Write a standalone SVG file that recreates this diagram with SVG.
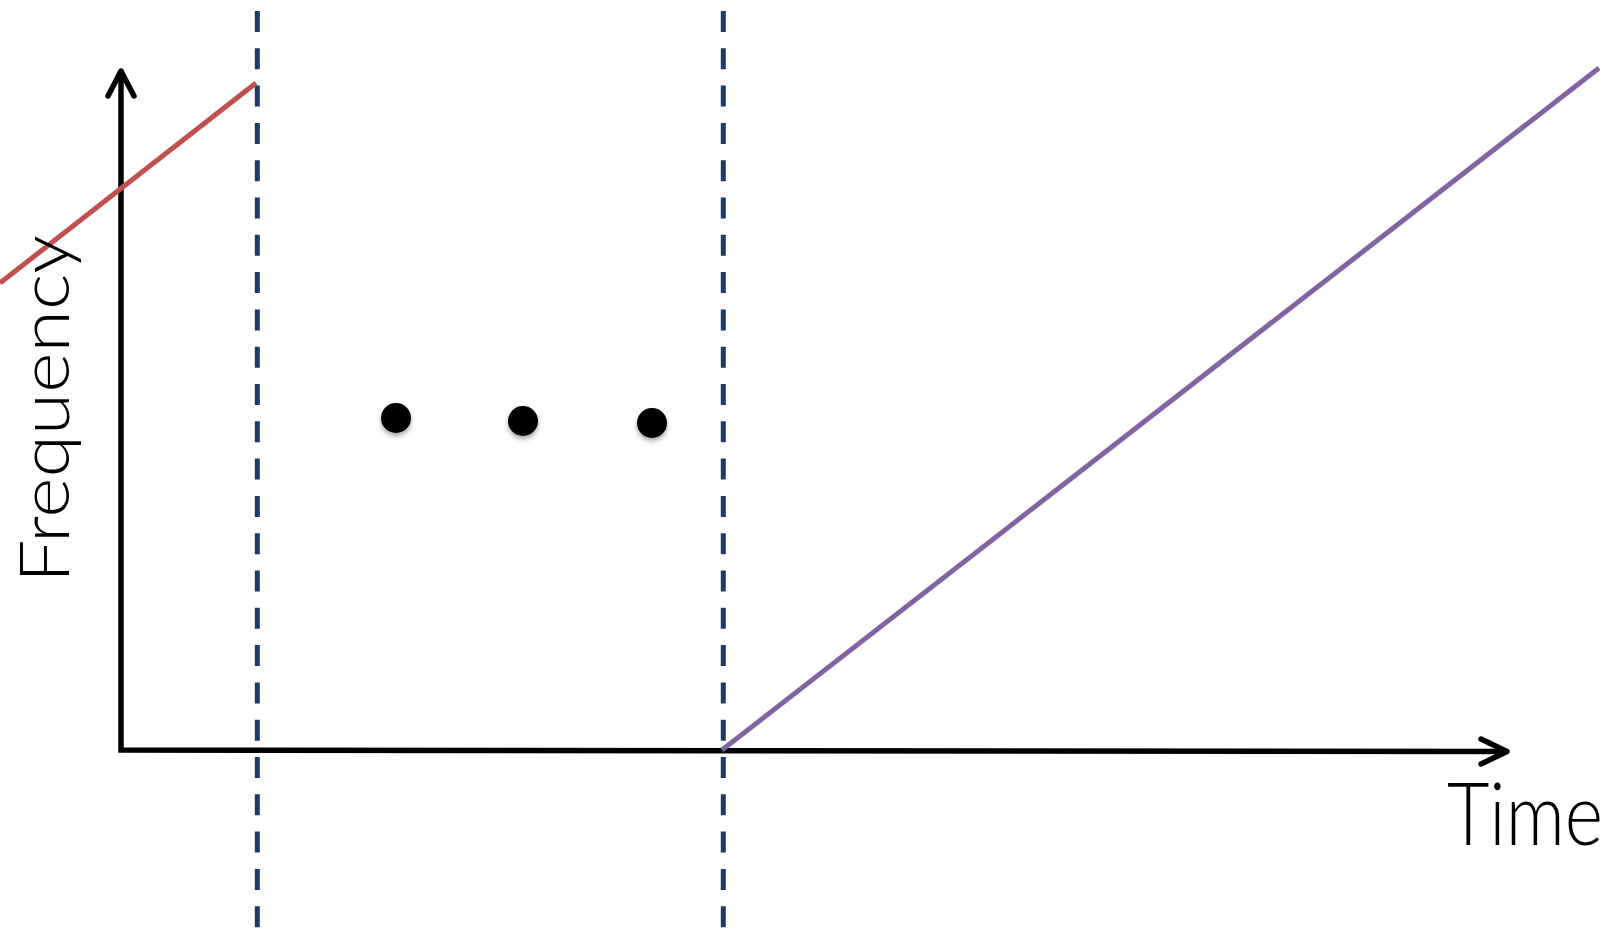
<svg xmlns="http://www.w3.org/2000/svg" width="1616" height="929" viewBox="0 0 1616 929">
  <style>
    .axis { stroke: #000; stroke-width: 5.5; fill: none; stroke-linecap: butt; }
    .head { stroke: #000; stroke-width: 5.5; fill: none; stroke-linecap: round; stroke-linejoin: round; }
    .dash { stroke: #1F3864; stroke-width: 5; stroke-dasharray: 21 16.3; fill: none; }
    .label { font-family: Lato, "Liberation Sans", sans-serif; font-weight: 300; fill: #000; }
  </style>
  <defs>
    <filter id="shadow" x="-50%" y="-50%" width="200%" height="200%">
      <feDropShadow dx="0" dy="3" stdDeviation="2.5" flood-color="#000" flood-opacity="0.35"/>
    </filter>
  </defs>
  <rect width="1616" height="929" fill="#fff"/>
  <g id="connectors">
    <line class="dash" x1="257.3" y1="11" x2="257.3" y2="929"/>
    <line class="dash" x1="723.3" y1="11" x2="723.3" y2="929"/>
    <polyline class="axis" points="121,72 121,750 1505,751.5"/>
    <polyline class="head" points="108,96 121,71 134,96"/>
    <polyline class="head" points="1481,739 1507,751.5 1481,764"/>
    <line x1="0" y1="283" x2="256" y2="83" stroke="#C0504D" stroke-width="5"/>
    <line x1="722" y1="750" x2="1599" y2="68" stroke="#8064A2" stroke-width="5"/>
  </g>
  <g id="dots" filter="url(#shadow)">
    <circle cx="396" cy="418" r="15" fill="#000"/>
    <circle cx="523" cy="421" r="15" fill="#000"/>
    <circle cx="652" cy="423" r="15" fill="#000"/>
  </g>
  <g id="time-label">
    <text class="label" transform="translate(1447,845) scale(1,1.2)" font-size="72" textLength="156" lengthAdjust="spacingAndGlyphs">Time</text>
  </g>
  <g id="frequency-label">
    <text class="label" transform="translate(69,583) rotate(-90)" font-size="69.5" textLength="348" lengthAdjust="spacingAndGlyphs">Frequency</text>
  </g>
</svg>
